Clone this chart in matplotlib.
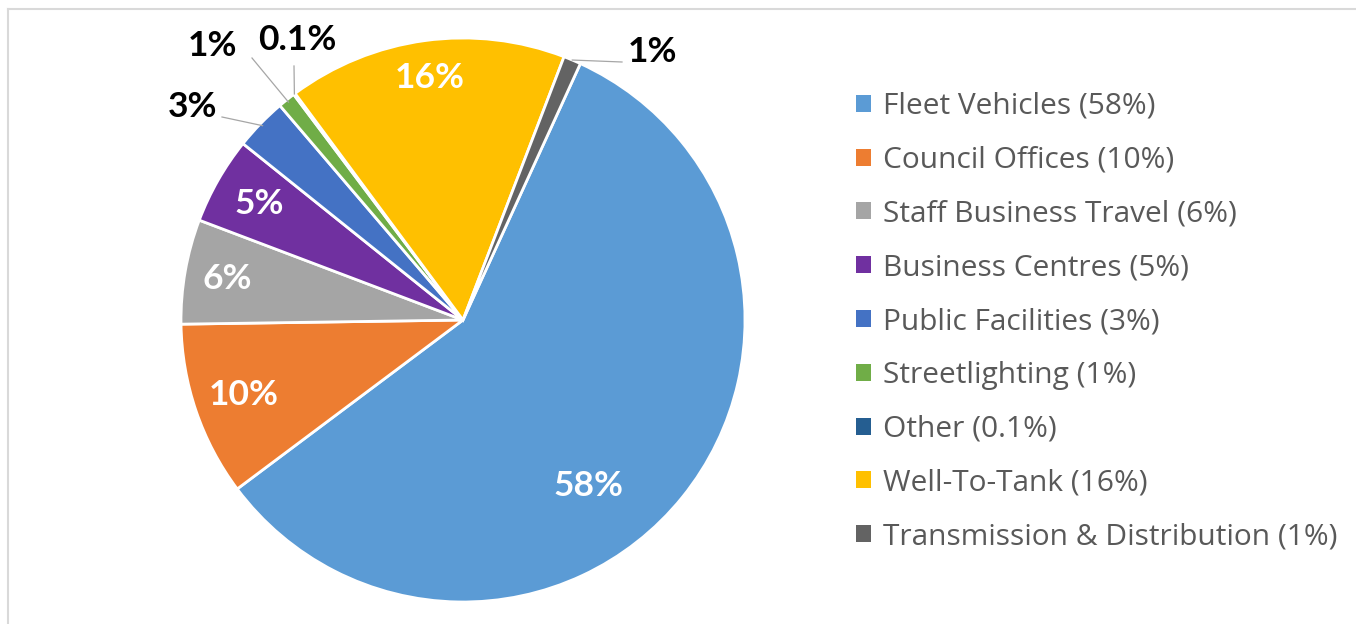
import matplotlib
matplotlib.use("Agg")
import matplotlib.pyplot as plt
import numpy as np

categories = ["Fleet Vehicles", "Council Offices", "Staff Business Travel",
              "Business Centres", "Public Facilities", "Streetlighting",
              "Other", "Well-To-Tank", "Transmission & Distribution"]
values = [58, 10, 6, 5, 3, 1, 0.1, 16, 1]
pct_labels = ["58%", "10%", "6%", "5%", "3%", "1%", "0.1%", "16%", "1%"]
legend_labels = ["Fleet Vehicles (58%)", "Council Offices (10%)",
                 "Staff Business Travel (6%)", "Business Centres (5%)",
                 "Public Facilities (3%)", "Streetlighting (1%)",
                 "Other (0.1%)", "Well-To-Tank (16%)",
                 "Transmission & Distribution (1%)"]
colors = ["#5B9BD5", "#ED7D31", "#A5A5A5", "#7030A0", "#4472C4",
          "#70AD47", "#255E91", "#FFC000", "#636363"]

W, H = 1356, 624
LBL_FONT = "Lato"
LEG_FONT = "Open Sans"
fig = plt.figure(figsize=(W / 100, H / 100), dpi=100)
ax = fig.add_axes([0, 0, 1, 1])

def py(y_img):
    return H - y_img

cx, cy, R = 463, py(320), 282
wedges, _ = ax.pie(values, colors=colors, startangle=65.4, counterclock=False,
                   center=(cx, cy), radius=R, frame=True,
                   wedgeprops=dict(edgecolor="white", linewidth=2.0))
ax.set_xlim(0, W)
ax.set_ylim(0, H)
ax.set_aspect("equal")
ax.axis("off")

# frame border (top and left visible)
ax.plot([8, W], [py(9), py(9)], color="#d9d9d9", lw=1.5)
ax.plot([8, 8], [py(9), 0], color="#d9d9d9", lw=1.5)

# inside labels (white): radial fraction, angle offset (deg)
inside = {0: (0.74, -14), 1: (0.82, 0), 2: (0.85, 0), 3: (0.83, 0), 7: (0.865, 0)}
for i, (f, d) in inside.items():
    w = wedges[i]
    th = np.deg2rad((w.theta1 + w.theta2) / 2 + d)
    ax.text(cx + f * R * np.cos(th), cy + f * R * np.sin(th), pct_labels[i],
            color="white", fontsize=25.5, fontweight="bold", family=LBL_FONT,
            ha="center", va="center")

# outside labels with leader lines
outside = {4: ((193, 107), (222, 117), 0.99),
           5: ((212, 46), (252, 58), 0.99),
           6: ((297, 40), (294, 66), 1.0),
           8: ((652, 52), (622, 62), 1.0)}
for i, ((tx, ty), (lx, ly), f) in outside.items():
    w = wedges[i]
    th = np.deg2rad((w.theta1 + w.theta2) / 2)
    ex, ey = cx + f * R * np.cos(th), cy + f * R * np.sin(th)
    ax.plot([lx, ex], [py(ly), ey], color="#a6a6a6", lw=0.9)
    ax.text(tx, py(ty), pct_labels[i], color="black", fontsize=25.5,
            fontweight="bold", family=LBL_FONT, ha="center", va="center")

leg = ax.legend(wedges, legend_labels, loc="upper left",
                bbox_to_anchor=(856 / W, 1 - 92 / H), frameon=False,
                prop=dict(family=LEG_FONT, size=21.5), handlelength=0.5,
                handleheight=0.5, handletextpad=0.42, labelspacing=0.83,
                borderaxespad=0, borderpad=0)
for t in leg.get_texts():
    t.set_color("#595959")
for hnd in leg.legend_handles:
    hnd.set_edgecolor("none")

fig.savefig("out.png", dpi=100, facecolor="white")
